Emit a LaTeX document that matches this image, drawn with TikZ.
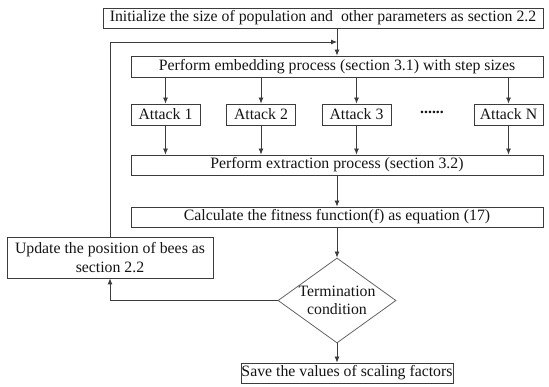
\documentclass[tikz,border=0pt]{standalone}
\usepackage{fontspec}
\setmainfont{Liberation Serif}
\usetikzlibrary{arrows.meta,positioning,shapes.geometric}
\definecolor{fline}{RGB}{60,60,60}
\definecolor{ftext}{RGB}{20,20,20}
\tikzset{box/.style={draw=fline,line width=0.8pt,inner sep=0pt,align=center,text=ftext,
    font=\fontsize{15.8}{18.5}\selectfont},
  decision/.style={draw=fline!80,line width=0.8pt,diamond,inner sep=0pt,minimum width=118pt,minimum height=85pt},
  flow/.style={-{Latex[length=6pt,width=5pt]},line width=0.8pt,fline},
  attackbox/.style={box,minimum width=69pt,minimum height=21pt}}

\begin{document}
\begin{tikzpicture}[x=1pt,y=-1pt]
\useasboundingbox (0,0) rectangle (549,387);
\node[box,minimum width=440pt,minimum height=20pt] (init) at (323,18) {Initialize the size of population and\ \ other parameters as section 2.2};
\node[box,minimum width=412pt,minimum height=21pt] (emb) at (337,66.5) {Perform embedding process (section 3.1) with step sizes};
\node[attackbox] (a1) at (165.5,114.5) {Attack 1};
\node[attackbox] (a2) at (261,114.5) {Attack 2};
\node[attackbox] (a3) at (356.5,114.5) {Attack 3};
\node[font=\fontsize{15.8}{18}\selectfont\bfseries,text=ftext] (dots) at (432,112) {......};
\node[attackbox] (aN) at (508.5,114.5) {Attack N};
\node[box,minimum width=412pt,minimum height=20pt] (ext) at (337,165) {Perform extraction process (section 3.2)};
\node[box,minimum width=412pt,minimum height=20pt] (fit) at (337,217) {Calculate the fitness function(f) as equation (17)};
\node[box,minimum width=206pt,minimum height=41pt] (upd) at (110,257.5) {Update the position of bees as\\section 2.2};
\node[decision] (term) at (337,300.5) {};
\node[box,draw=none] (termtxt) at (term) {Termination\\condition};
\node[box,minimum width=212pt,minimum height=20pt] (save) at (347,373) {Save the values of scaling factors};
\coordinate (merge) at (337,42);
% main column
\draw[flow] (init.south -| emb.north) -- (emb.north);
\foreach \a in {a1,a2,a3,aN}{
  \draw[flow] (emb.south -| \a.north) -- (\a.north);
  \draw[flow] (\a.south) -- (\a.south |- ext.north);
}
\draw[flow] (ext.south) -- (fit.north);
\draw[flow] (fit.south) -- (term.north);
\draw[flow] (term.south) -- (term.south |- save.north);
% loop back through the update step
\draw[flow] (term.west) -| (upd.south);
\draw[flow] (upd.north) |- (merge);
\end{tikzpicture}
\end{document}
